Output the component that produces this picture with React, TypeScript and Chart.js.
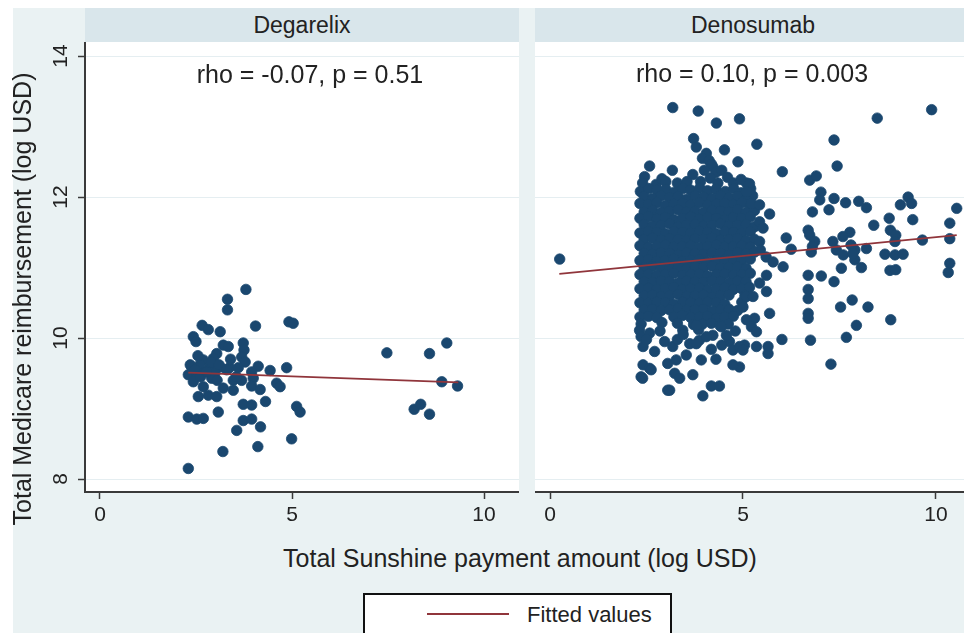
import React, { useEffect, useRef } from 'react';
import { Chart, registerables } from 'chart.js';

Chart.register(...registerables);

const FONT = '"Liberation Sans", Arial, Helvetica, sans-serif';

// ---- data ----
const panelTitles = ['Degarelix', 'Denosumab'];
const annotations = ['rho = -0.07, p = 0.51', 'rho = 0.10, p = 0.003'];
const xTitle = 'Total Sunshine payment amount (log USD)';
const yTitle = 'Total Medicare reimbursement (log USD)';
const legendLabel = 'Fitted values';
const xTicks = [0, 5, 10];
const yTicks = [8, 10, 12, 14];
const xRange = [-0.39, 10.91];
const yRange = [7.816, 14.2];

const degarelixFitX = [2.3, 9.33];
const degarelixFitY = [9.51, 9.37];
const denosumabFitX = [0.24, 10.54];
const denosumabFitY = [10.91, 11.46];

const degarelixPoints: [number, number][] = [
  [3.8, 10.69], [3.32, 10.55], [3.32, 10.4], [4.05, 10.17], [4.92, 10.23], [5.03, 10.21],
  [2.66, 10.18], [2.82, 10.12], [3.13, 10.09], [2.43, 10.02], [2.5, 9.95], [3.21, 9.9],
  [3.34, 9.88], [3.73, 9.93], [3.75, 9.83], [3.04, 9.78], [3.69, 9.73], [3.78, 9.66],
  [2.69, 9.69], [2.95, 9.71], [2.39, 9.59], [2.6, 9.62], [2.86, 9.59], [3.13, 9.59],
  [3.37, 9.58], [4.12, 9.6], [4.43, 9.54], [4.86, 9.58], [2.3, 9.48], [2.52, 9.5],
  [2.73, 9.52], [2.99, 9.5], [3.95, 9.52], [2.43, 9.38], [2.91, 9.43], [3.47, 9.4],
  [3.69, 9.4], [3.99, 9.43], [4.6, 9.36], [4.69, 9.31], [2.69, 9.31], [3.21, 9.29],
  [3.47, 9.26], [3.95, 9.32], [4.17, 9.27], [2.56, 9.17], [2.82, 9.19], [3.04, 9.17],
  [4.31, 9.1], [3.73, 9.06], [3.95, 9.05], [5.12, 9.03], [5.21, 8.95], [3.08, 8.95],
  [2.3, 8.88], [2.52, 8.85], [2.69, 8.86], [3.73, 8.83], [3.95, 8.85], [4.18, 8.74],
  [3.56, 8.69], [4.99, 8.57], [4.11, 8.46], [3.2, 8.39], [2.3, 8.15],
  [2.35, 9.62], [2.47, 9.55], [2.62, 9.45], [2.78, 9.52], [2.9, 9.66], [3.1, 9.62],
  [3.3, 9.55], [3.4, 9.7], [3.55, 9.45], [3.05, 9.4], [2.55, 9.75], [3.6, 9.58],
  [7.47, 9.79], [8.58, 9.78], [9.03, 9.93], [8.9, 9.38], [9.31, 9.32], [8.18, 8.99],
  [8.35, 9.06], [8.58, 8.92],
];

const denosumabPoints: [number, number][] = [
  // upper outliers
  [3.18, 13.27], [3.84, 13.22], [4.31, 13.05], [4.91, 13.11], [3.72, 12.83], [3.79, 12.71],
  [4.05, 12.62], [4.52, 12.67], [4.87, 12.5], [5.36, 12.75], [2.58, 12.44], [3.17, 12.38],
  [2.45, 12.29], [3.7, 12.32], [4.22, 12.43], [2.75, 12.18], [6.02, 12.36], [5.09, 12.2],
  [7.36, 12.81], [7.44, 12.44], [8.48, 13.12], [9.89, 13.24], [0.25, 11.12],
  [3.95, 12.55], [4.12, 12.52], [4.18, 12.47], [4.0, 12.38], [4.3, 12.35], [4.45, 12.38],
  [2.4, 12.2], [2.9, 12.26], [3.0, 12.22], [3.3, 12.2], [3.55, 12.22], [3.9, 12.22],
  [4.15, 12.27], [4.35, 12.2], [4.6, 12.28], [4.75, 12.2], [4.95, 12.25], [5.2, 12.12], [5.25, 12.02],
  // main cloud
  [2.34, 12.08], [2.56, 12.12], [2.77, 12.1], [3.0, 12.11], [3.22, 12.07], [3.44, 12.12], [3.64, 12.1],
  [3.88, 12.13], [4.08, 12.09], [4.3, 12.11], [4.54, 12.08], [4.76, 12.12], [4.95, 12.06],
  [2.44, 12.01], [2.66, 11.98], [2.88, 12.02], [3.1, 11.99], [3.32, 12.01], [3.54, 11.97],
  [3.76, 12.02], [3.98, 12.0], [4.2, 11.98], [4.42, 12.02], [4.64, 11.99], [4.86, 12.01], [5.08, 11.96],
  [2.33, 11.91], [2.55, 11.89], [2.77, 11.92], [2.99, 11.88], [3.21, 11.9], [3.43, 11.91],
  [3.65, 11.89], [3.87, 11.92], [4.09, 11.88], [4.31, 11.9], [4.53, 11.91], [4.75, 11.89],
  [4.97, 11.92], [5.19, 11.87],
  [2.44, 11.79], [2.66, 11.81], [2.88, 11.78], [3.1, 11.8], [3.32, 11.82], [3.54, 11.79],
  [3.76, 11.8], [3.98, 11.78], [4.2, 11.81], [4.42, 11.8], [4.64, 11.79], [4.86, 11.82],
  [5.08, 11.78], [5.3, 11.81],
  [2.33, 11.7], [2.55, 11.72], [2.77, 11.69], [2.99, 11.71], [3.21, 11.68], [3.43, 11.7],
  [3.65, 11.72], [3.87, 11.69], [4.09, 11.71], [4.31, 11.7], [4.53, 11.68], [4.75, 11.71],
  [4.97, 11.7], [5.19, 11.72],
  [2.44, 11.61], [2.66, 11.59], [2.88, 11.6], [3.1, 11.62], [3.32, 11.58], [3.54, 11.6],
  [3.76, 11.61], [3.98, 11.59], [4.2, 11.6], [4.42, 11.62], [4.64, 11.59], [4.86, 11.6],
  [5.08, 11.61], [5.3, 11.58],
  [2.33, 11.49], [2.55, 11.51], [2.77, 11.5], [2.99, 11.48], [3.21, 11.51], [3.43, 11.5],
  [3.65, 11.49], [3.87, 11.52], [4.09, 11.5], [4.31, 11.48], [4.53, 11.51], [4.75, 11.5],
  [4.97, 11.49], [5.19, 11.51],
  [2.44, 11.4], [2.66, 11.42], [2.88, 11.39], [3.1, 11.41], [3.32, 11.4], [3.54, 11.38],
  [3.76, 11.41], [3.98, 11.4], [4.2, 11.42], [4.42, 11.39], [4.64, 11.4], [4.86, 11.41],
  [5.08, 11.38], [5.3, 11.4],
  [2.33, 11.31], [2.55, 11.29], [2.77, 11.3], [2.99, 11.32], [3.21, 11.29], [3.43, 11.3],
  [3.65, 11.31], [3.87, 11.28], [4.09, 11.3], [4.31, 11.32], [4.53, 11.29], [4.75, 11.3],
  [4.97, 11.31], [5.19, 11.29],
  [2.44, 11.2], [2.66, 11.19], [2.88, 11.21], [3.1, 11.2], [3.32, 11.18], [3.54, 11.21],
  [3.76, 11.2], [3.98, 11.19], [4.2, 11.21], [4.42, 11.2], [4.64, 11.18], [4.86, 11.21],
  [5.08, 11.2], [5.3, 11.22],
  [2.33, 11.1], [2.55, 11.11], [2.77, 11.09], [2.99, 11.1], [3.21, 11.12], [3.43, 11.09],
  [3.65, 11.1], [3.87, 11.11], [4.09, 11.08], [4.31, 11.1], [4.53, 11.11], [4.75, 11.09],
  [4.97, 11.1], [5.19, 11.12],
  [2.44, 11.0], [2.66, 11.02], [2.88, 10.99], [3.1, 11.01], [3.32, 11.0], [3.54, 10.98],
  [3.76, 11.01], [3.98, 11.0], [4.2, 11.02], [4.42, 10.99], [4.64, 11.0], [4.86, 11.01], [5.08, 10.99],
  [2.33, 10.9], [2.55, 10.91], [2.77, 10.89], [2.99, 10.9], [3.21, 10.92], [3.43, 10.89],
  [3.65, 10.9], [3.87, 10.91], [4.09, 10.88], [4.31, 10.9], [4.53, 10.91], [4.75, 10.89],
  [4.97, 10.9], [5.19, 10.92],
  [2.44, 10.8], [2.66, 10.79], [2.88, 10.81], [3.1, 10.8], [3.32, 10.78], [3.54, 10.81],
  [3.76, 10.8], [3.98, 10.79], [4.2, 10.81], [4.42, 10.8], [4.64, 10.78], [4.86, 10.81], [5.08, 10.8],
  [2.33, 10.7], [2.55, 10.71], [2.77, 10.69], [2.99, 10.7], [3.21, 10.72], [3.43, 10.69],
  [3.65, 10.7], [3.87, 10.71], [4.09, 10.68], [4.31, 10.7], [4.53, 10.71], [4.75, 10.69],
  [4.97, 10.7], [5.17, 10.72],
  [2.44, 10.6], [2.66, 10.61], [2.88, 10.59], [3.1, 10.6], [3.32, 10.62], [3.54, 10.59],
  [3.76, 10.6], [3.98, 10.61], [4.2, 10.58], [4.42, 10.6], [4.64, 10.61], [5.05, 10.6],
  [2.33, 10.5], [2.55, 10.49], [2.77, 10.51], [2.99, 10.5], [3.21, 10.48], [3.43, 10.51],
  [3.65, 10.5], [3.87, 10.49], [4.09, 10.51], [4.31, 10.5], [4.53, 10.48], [4.97, 10.51],
  [2.44, 10.4], [2.66, 10.41], [2.88, 10.39], [3.1, 10.4], [3.32, 10.42], [3.54, 10.39],
  [3.76, 10.4], [3.98, 10.41], [4.2, 10.38], [4.42, 10.4], [4.64, 10.41], [4.86, 10.39],
  [2.33, 10.3], [2.55, 10.31], [2.77, 10.29], [3.21, 10.3], [3.43, 10.32], [3.65, 10.29],
  [3.87, 10.3], [4.09, 10.31], [4.31, 10.28], [4.53, 10.3], [4.75, 10.31],
  [2.36, 10.2], [2.9, 10.22], [3.3, 10.21], [3.72, 10.19], [3.95, 10.2], [4.18, 10.21],
  [4.4, 10.18], [4.62, 10.2], [3.85, 10.12], [4.44, 10.16], [3.44, 10.11],
  // right edge of cloud
  [5.17, 12.19], [5.09, 12.08], [5.22, 11.91], [5.43, 11.89], [5.69, 11.76], [5.43, 11.65],
  [5.52, 11.56], [5.43, 11.37], [5.45, 11.25], [5.6, 11.15], [5.78, 11.08], [6.04, 11.01],
  [5.61, 10.89], [5.43, 10.78], [5.61, 10.66], [5.09, 10.59], [5.26, 10.59], [5.0, 10.44],
  [5.69, 10.35], [5.3, 10.28], [5.09, 10.26], [5.22, 10.16], [5.35, 10.09], [5.04, 9.9],
  [5.35, 9.88], [5.65, 9.88], [5.65, 9.78], [4.91, 9.59],
  // lower part
  [2.32, 10.11], [2.36, 10.02], [2.41, 9.88], [2.71, 9.81], [2.58, 10.07], [2.97, 9.95],
  [3.18, 9.88], [3.53, 9.76], [3.87, 9.97], [4.18, 9.84], [2.41, 9.62], [2.58, 9.57],
  [2.36, 9.45], [3.05, 9.64], [3.27, 9.69], [3.23, 9.5], [3.36, 9.43], [3.05, 9.26],
  [3.7, 9.48], [3.92, 9.69], [4.18, 9.32], [4.39, 9.32], [3.96, 9.18], [4.65, 9.95],
  [4.74, 9.83], [4.74, 9.62], [4.91, 9.88], [4.57, 10.04], [4.22, 10.04], [3.79, 10.18],
  [2.62, 9.55], [2.4, 9.43], [3.1, 9.26], [3.3, 9.98], [3.45, 10.05], [2.85, 10.1],
  [4.45, 9.9], [4.05, 10.02], [4.3, 9.7], [4.8, 10.1], [3.62, 9.92], [2.5, 9.98],
  [3.79, 9.92], [5.0, 9.83],
  // high payment scatter
  [6.73, 12.24], [6.9, 12.3], [7.02, 12.07], [6.99, 11.96], [7.36, 11.98], [7.66, 11.92],
  [8.0, 11.94], [8.2, 11.85], [6.8, 11.79], [7.23, 11.82], [9.08, 11.89], [9.28, 12.0],
  [9.37, 11.91], [10.54, 11.84], [10.36, 11.63], [9.4, 11.68], [8.79, 11.7], [8.39, 11.6],
  [6.12, 11.42], [6.69, 11.53], [6.73, 11.46], [6.86, 11.37], [7.77, 11.5], [7.59, 11.44],
  [7.33, 11.37], [8.82, 11.53], [8.96, 11.46], [8.94, 11.37], [9.65, 11.39], [10.36, 11.41],
  [6.25, 11.26], [6.77, 11.22], [7.42, 11.25], [7.9, 11.25], [8.2, 11.27], [8.68, 11.19],
  [8.94, 11.18], [9.15, 11.19], [10.36, 11.06], [7.9, 11.11], [7.6, 11.18], [7.8, 11.32],
  [6.8, 11.3], [7.85, 11.2], [10.32, 10.93], [8.81, 10.96], [8.96, 10.97], [7.55, 10.99],
  [8.07, 11.0], [6.69, 10.89], [7.03, 10.88], [7.36, 10.8], [6.69, 10.69], [6.69, 10.56],
  [6.69, 10.35], [6.69, 10.28], [7.83, 10.54], [7.53, 10.44], [8.24, 10.44], [8.83, 10.26],
  [7.94, 10.18], [7.68, 10.01], [6.75, 9.97], [6.01, 9.98], [7.28, 9.63],
];

// ---- styles ----
const BG = '#eaf2f3';
const STRIP = '#d9e6eb';
const DOT = '#1a476f';
const FIT = '#90353b';
const AXIS = '#3a3a3a';
const TEXT = '#222';

type PanelProps = {
  points: [number, number][];
  fitX: number[];
  fitY: number[];
  showY: boolean;
  left: number;
  width: number;
};

function Panel({ points, fitX, fitY, showY, left, width }: PanelProps) {
  const ref = useRef<HTMLCanvasElement | null>(null);
  const height = 498;
  const yWidth = showY ? 72 : 0;

  useEffect(() => {
    if (!ref.current) return;
    const whiteArea = {
      id: 'whiteArea',
      beforeDraw(chart: any) {
        const { ctx, chartArea: a } = chart;
        ctx.save();
        ctx.fillStyle = '#ffffff';
        ctx.fillRect(a.left, a.top, a.right - a.left, a.bottom - a.top);
        ctx.restore();
      },
    };
    const chart = new Chart(ref.current, {
      type: 'scatter',
      data: {
        datasets: [
          {
            label: legendLabel,
            data: fitX.map((x, i) => ({ x, y: fitY[i] })),
            showLine: true,
            borderColor: FIT,
            backgroundColor: FIT,
            borderWidth: 1.7,
            pointRadius: 0,
            order: 0,
          },
          {
            label: 'Observed',
            data: points.map(([x, y]) => ({ x, y })),
            backgroundColor: DOT,
            borderColor: DOT,
            borderWidth: 0.8,
            pointRadius: 5.25,
            order: 1,
          },
        ],
      },
      options: {
        animation: false,
        responsive: false,
        devicePixelRatio: 1,
        layout: { padding: 0, autoPadding: false },
        plugins: { legend: { display: false }, tooltip: { enabled: false } },
        scales: {
          x: {
            type: 'linear',
            min: xRange[0],
            max: xRange[1],
            afterBuildTicks: (s: any) => {
              s.ticks = xTicks.map((v) => ({ value: v }));
            },
            afterFit: (s: any) => {
              s.height = 48;
              s.paddingLeft = 0;
              s.paddingRight = 0;
            },
            grid: {
              drawOnChartArea: false,
              drawTicks: true,
              tickLength: 7,
              tickColor: AXIS,
              tickWidth: 1.5,
            },
            border: { display: true, color: AXIS, width: 2 },
            ticks: {
              color: TEXT,
              font: { family: FONT, size: 21 },
              padding: 4,
              maxRotation: 0,
              autoSkip: false,
              callback: (v: any) => String(v),
            },
          },
          y: {
            type: 'linear',
            min: yRange[0],
            max: yRange[1],
            afterBuildTicks: (s: any) => {
              s.ticks = yTicks.map((v) => ({ value: v }));
            },
            afterFit: (s: any) => {
              s.width = yWidth;
              s.paddingTop = 0;
              s.paddingBottom = 0;
            },
            grid: {
              color: '#e5eef1',
              lineWidth: 1,
              drawTicks: showY,
              tickLength: 7,
              tickColor: AXIS,
              tickWidth: 1.5,
            },
            border: { display: showY, color: AXIS, width: 2 },
            ticks: {
              display: showY,
              color: TEXT,
              font: { family: FONT, size: 21 },
              padding: 5,
              minRotation: 90,
              maxRotation: 90,
              crossAlign: 'center',
              autoSkip: false,
              callback: (v: any) => String(v),
            },
          },
        },
      } as any,
      plugins: [whiteArea],
    });
    return () => chart.destroy();
  }, []);

  return (
    <canvas
      ref={ref}
      width={width}
      height={height}
      style={{ position: 'absolute', left, top: 42, width, height }}
    />
  );
}

export default function App() {
  const abs = (s: React.CSSProperties): React.CSSProperties => ({ position: 'absolute', ...s });
  return (
    <div
      style={{
        position: 'absolute',
        left: 0,
        top: 0,
        width: 964,
        height: 633,
        overflow: 'hidden',
        background: '#ffffff',
        fontFamily: FONT,
        color: TEXT,
      }}
    >
      <div style={abs({ left: 13, top: 8, width: 951, height: 625, background: BG })} />
      <div
        style={abs({
          left: 85, top: 8, width: 434, height: 34, background: STRIP,
          textAlign: 'center', fontSize: 23, lineHeight: '34px',
        })}
      >
        {panelTitles[0]}
      </div>
      <div
        style={abs({
          left: 535, top: 8, width: 436, height: 34, background: STRIP,
          textAlign: 'center', fontSize: 23, lineHeight: '34px',
        })}
      >
        {panelTitles[1]}
      </div>
      <Panel points={degarelixPoints} fitX={degarelixFitX} fitY={degarelixFitY} showY={true} left={13} width={506} />
      <Panel points={denosumabPoints} fitX={denosumabFitX} fitY={denosumabFitY} showY={false} left={535} width={436} />
      <div
        style={abs({
          left: 110, top: 59, width: 400, textAlign: 'center', fontSize: 25,
          lineHeight: '30px', whiteSpace: 'nowrap',
        })}
      >
        {annotations[0]}
      </div>
      <div
        style={abs({
          left: 552, top: 58, width: 400, textAlign: 'center', fontSize: 25,
          lineHeight: '30px', whiteSpace: 'nowrap',
        })}
      >
        {annotations[1]}
      </div>
      <div
        style={abs({
          left: 220, top: 543, width: 600, textAlign: 'center', fontSize: 25,
          lineHeight: '30px', whiteSpace: 'nowrap',
        })}
      >
        {xTitle}
      </div>
      <div
        style={abs({
          left: 22.3 - 260, top: 298.5 - 15, width: 520, height: 30, textAlign: 'center',
          fontSize: 25, lineHeight: '30px', whiteSpace: 'nowrap', transform: 'rotate(-90deg)',
        })}
      >
        {yTitle}
      </div>
      <div
        style={abs({
          left: 363, top: 593, width: 309, height: 60, background: '#ffffff',
          border: '2px solid #111', boxSizing: 'border-box',
        })}
      />
      <div style={abs({ left: 427, top: 613, width: 82, height: 2, background: FIT })} />
      <div
        style={abs({
          left: 527, top: 602, fontSize: 22, lineHeight: '26px', whiteSpace: 'nowrap',
        })}
      >
        {legendLabel}
      </div>
    </div>
  );
}
